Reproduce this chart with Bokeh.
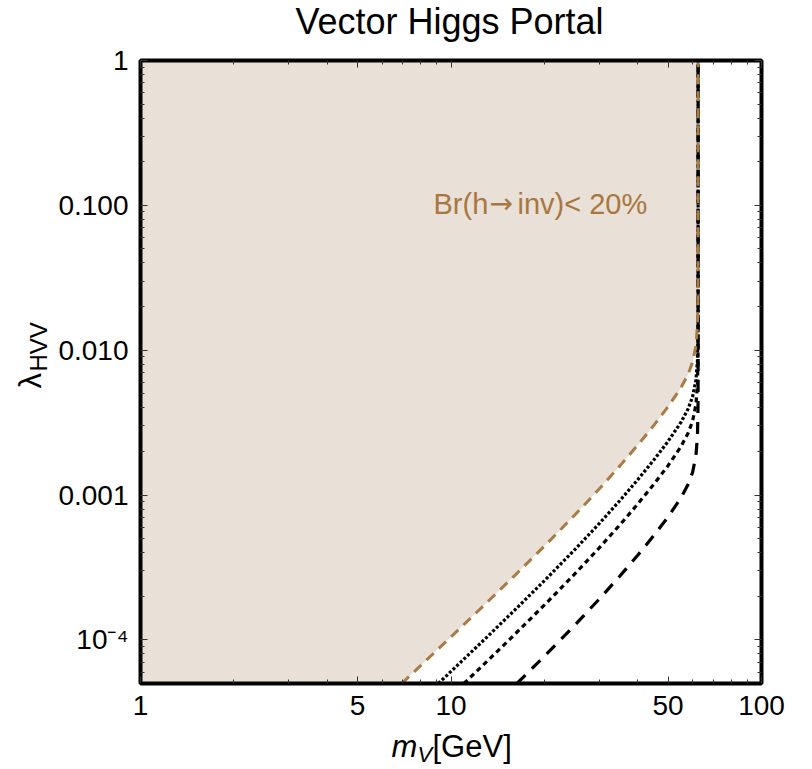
import numpy as np
from bokeh.plotting import figure
from bokeh.models import FixedTicker, LogAxis, Label, Range1d, CustomJSTickFormatter
from bokeh.embed import file_html
from bokeh.resources import INLINE

# ---- data ----
# Br(h->inv) < 20% boundary (brown dashed)
m_br = [6.94, 8, 10, 13, 16, 20, 25, 30, 35, 40, 45, 50, 55, 58, 60, 61.5, 62.2, 62.45, 62.49, 62.499, 62.4999, 62.5]
lam_br = [5.0e-5, 6.67e-5, 1.05e-4, 1.798e-4, 2.769e-4, 4.448e-4, 7.254e-4, 1.100e-3, 1.590e-3, 2.222e-3,
          3.029e-3, 4.070e-3, 5.501e-3, 6.809e-3, 8.285e-3, 1.077e-2, 1.476e-2, 2.321e-2, 3.473e-2, 6.176e-2, 0.1098, 1.0]
# dotted curve
m_dot = [9.1, 10, 13, 16, 20, 25, 30, 35, 40, 45, 50, 55, 58, 60, 61.5, 62.2, 62.45, 62.49, 62.499, 62.4999, 62.5]
lam_dot = [5.0e-5, 6.055e-5, 1.037e-4, 1.597e-4, 2.565e-4, 4.184e-4, 6.344e-4, 9.169e-4, 1.281e-3, 1.747e-3,
           2.347e-3, 3.173e-3, 3.927e-3, 4.778e-3, 6.209e-3, 8.510e-3, 1.338e-2, 2.003e-2, 3.562e-2, 6.334e-2, 1.0]
# short-dashed curve
m_sd = [11, 13, 16, 20, 25, 30, 35, 40, 45, 50, 55, 58, 60, 61.5, 62.2, 62.45, 62.49, 62.499, 62.4999, 62.5]
lam_sd = [5.0e-5, 7.048e-5, 1.085e-4, 1.743e-4, 2.843e-4, 4.311e-4, 6.231e-4, 8.707e-4, 1.187e-3, 1.595e-3,
          2.156e-3, 2.669e-3, 3.247e-3, 4.220e-3, 5.783e-3, 9.095e-3, 1.361e-2, 2.421e-2, 4.305e-2, 1.0]
# long-dashed curve
m_ld = [16.3, 20, 25, 30, 35, 40, 45, 50, 55, 58, 60, 61.5, 62.2, 62.45, 62.49, 62.499, 62.4999, 62.5]
lam_ld = [5.0e-5, 7.722e-5, 1.259e-4, 1.910e-4, 2.760e-4, 3.856e-4, 5.259e-4, 7.065e-4, 9.550e-4, 1.182e-3,
          1.438e-3, 1.869e-3, 2.562e-3, 4.028e-3, 6.028e-3, 1.072e-2, 1.907e-2, 1.0]

x_major = [1, 5, 10, 50, 100]
x_minor = [2, 3, 4, 6, 7, 8, 9, 20, 30, 40, 60, 70, 80, 90]
y_major = [1e-4, 1e-3, 1e-2, 1e-1, 1.0]
y_labels = ["10\u207b\u2074", "0.001", "0.010", "0.100", "1"]
y_minor = [6e-5, 7e-5, 8e-5, 9e-5] + [k * 10.0 ** e for e in (-4, -3, -2, -1) for k in range(2, 10)]

X_LO, X_HI = 1.0, 100.0
Y_LO, Y_HI = 5e-5, 1.0

FONT = "Liberation Sans"
BROWN = "#A97B45"
FILL = "#E9E0D7"

# ---- layout (pixels) ----
W, H = 812, 769
FL, FR, FT, FB = 140, 761, 60, 683          # data box edges in the picture
dx = (FR - FL) / np.log10(X_HI / X_LO)       # px per decade
dy = (FB - FT) / np.log10(Y_HI / Y_LO)
xr = Range1d(X_LO * 10 ** (-FL / dx), X_HI * 10 ** ((W - FR) / dx))
yr = Range1d(Y_LO * 10 ** (-(H - FB) / dy), Y_HI * 10 ** (FT / dy))

p = figure(width=W, height=H, x_axis_type="log", y_axis_type="log",
           x_range=xr, y_range=yr, output_backend="svg", toolbar_location=None,
           min_border=0)
p.grid.visible = False
p.outline_line_color = None
p.background_fill_color = "white"
p.border_fill_color = "white"

# excluded region (filled)
fx = [X_LO] + m_br + [X_LO]
fy = [Y_LO] + lam_br + [Y_HI]
p.patch(fx, fy, fill_color=FILL, line_color=None)

p.line(m_ld, lam_ld, line_color="black", line_width=3.2, line_dash="12 9")
p.line(m_sd, lam_sd, line_color="black", line_width=3.2, line_dash="5 4")
p.line(m_dot, lam_dot, line_color="black", line_width=3.2, line_dash="3 2")
p.line(m_br, lam_br, line_color=BROWN, line_width=3, line_dash="10 7")

# frame box
p.quad(left=[X_LO], right=[X_HI], bottom=[Y_LO], top=[Y_HI], fill_color=None,
       line_color="black", line_width=4)

def style_axis(ax, ticks, minor, loc, show_labels):
    ax.ticker = FixedTicker(ticks=ticks, minor_ticks=minor)
    ax.fixed_location = loc
    ax.axis_line_color = None
    ax.major_tick_in = 7
    ax.major_tick_out = 0
    ax.minor_tick_in = 4
    ax.minor_tick_out = 0
    ax.major_tick_line_color = "#333333"
    ax.minor_tick_line_color = "#333333"
    ax.major_tick_line_width = 1
    ax.minor_tick_line_width = 1
    if show_labels:
        ax.major_label_text_font = FONT
        ax.major_label_text_font_size = "28px"
        ax.major_label_text_color = "black"
        ax.major_label_standoff = 12
    else:
        ax.formatter = CustomJSTickFormatter(code="return ''")
        ax.major_label_standoff = 0

style_axis(p.xaxis[0], x_major, x_minor, Y_LO, True)
style_axis(p.yaxis[0], y_major, y_minor, X_LO, True)
p.yaxis[0].major_label_overrides = {v: s for v, s in zip(y_major, y_labels)}

top = LogAxis()
style_axis(top, x_major, x_minor, Y_HI, False)
p.add_layout(top, "above")
right = LogAxis()
style_axis(right, y_major, y_minor, X_HI, False)
p.add_layout(right, "right")

# texts; screen units relative to the canvas bottom-left, anchored at the text middle
def lab(text, px, py, size, font=FONT, **kw):
    p.add_layout(Label(x=px, y=H - py, x_units="screen", y_units="screen", text=text,
                       text_font=font, text_font_size=f"{size}px", text_baseline="middle", **kw))

lab("Vector Higgs Portal", 449, 21, 36, text_align="center", text_color="black")

BRT = "#A8773F"
lab("Br(h", 433, 203, 29, text_align="left", text_color=BRT)
lab("\u2192", 489, 203, 28, font="DejaVu Sans", text_align="left", text_color=BRT)
lab("inv)< 20%", 517, 203, 29, text_align="left", text_color=BRT)

# x axis label  m_V[GeV]
lab("m", 391, 746, 31, text_align="left", text_color="black", text_font_style="italic")
lab("V", 417, 754, 22, text_align="left", text_color="black", text_font_style="italic")
lab("[GeV]", 432, 746, 31, text_align="left", text_color="black")

# y axis label  lambda_HVV (rotated)
lab("\u03bb", 30, 388, 31, text_align="left", text_color="black", angle=np.pi / 2)
lab("HVV", 38, 371, 24, text_align="left", text_color="black", angle=np.pi / 2)

open("out.html", "w").write(file_html(p, INLINE))
